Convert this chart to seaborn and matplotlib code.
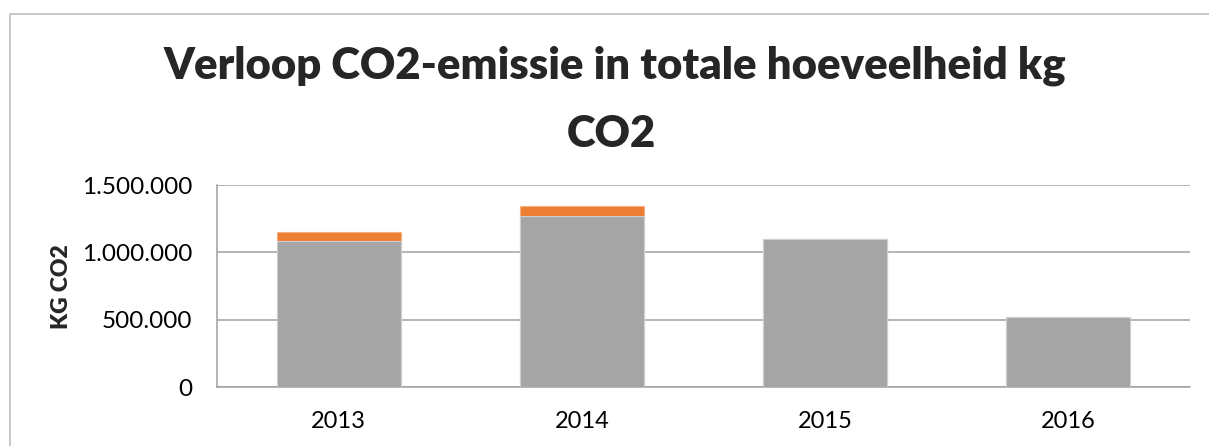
import matplotlib
matplotlib.use("Agg")
import matplotlib.pyplot as plt
import matplotlib.ticker as mticker
from matplotlib.patches import Rectangle
import pandas as pd
import seaborn as sns

# data
years = ["2013", "2014", "2015", "2016"]
gray_kg = [1085000, 1271000, 1098000, 522000]
orange_kg = [69000, 74000, 0, 0]
y_ticks = [0, 500000, 1000000, 1500000]

df = pd.DataFrame({"Jaar": years, "grijs": gray_kg, "oranje": orange_kg})
df["totaal"] = df["grijs"] + df["oranje"]

sns.set_theme(style="white")
plt.rcParams["font.family"] = ["Lato", "DejaVu Sans"]

fig = plt.figure(figsize=(12.09, 4.46), dpi=100)
ax = fig.add_axes([0.1795, 0.1316, 0.8048, 0.4536])

# stacked bars: total in orange, gray part drawn over it
sns.barplot(data=df, x="Jaar", y="totaal", color="#ED7D31", saturation=1,
            width=0.51, edgecolor="#F4B183", linewidth=0.8, ax=ax, zorder=3)
sns.barplot(data=df, x="Jaar", y="grijs", color="#A5A5A5", saturation=1,
            width=0.51, edgecolor="#D0D0D0", linewidth=0.8, ax=ax, zorder=4)

ax.set_xlim(-0.5, 3.5)
ax.set_ylim(0, 1500000)
ax.set_yticks(y_ticks)
ax.yaxis.set_major_formatter(
    mticker.FuncFormatter(lambda v, p: f"{int(v):,}".replace(",", ".")))
ax.yaxis.grid(True, color="#A0A0A0", linewidth=1.1, zorder=0)
ax.set_axisbelow(True)
for side in ["top", "right"]:
    ax.spines[side].set_visible(False)
for side in ["left", "bottom"]:
    ax.spines[side].set_color("#A0A0A0")
    ax.spines[side].set_linewidth(1.1)
ax.tick_params(axis="y", length=0, pad=18, labelsize=17.5, labelcolor="black")
ax.tick_params(axis="x", length=0, pad=17, labelsize=17, labelcolor="black")
ax.set_xlabel("")
ax.set_ylabel("")

fig.text(61 / 1209, 1 - 287 / 446, "KG CO2", rotation=90, ha="center",
         va="center", fontsize=16.5, fontweight="heavy")

fig.text(615 / 1209, 1 - 66 / 446, "Verloop CO2-emissie in totale hoeveelheid kg",
         ha="center", va="center", fontsize=31.4, fontweight="heavy")
fig.text(611 / 1209, 1 - 134 / 446, "CO2",
         ha="center", va="center", fontsize=31.4, fontweight="heavy")

# chart frame (clipped on the right and bottom like the original)
fig.patches.append(Rectangle((10 / 1209, -0.2), 1.5, 1.2 - 14 / 446,
                             transform=fig.transFigure, fill=False,
                             edgecolor="#BFBFBF", linewidth=1.2))

fig.savefig("out.png", dpi=100, facecolor="white")
